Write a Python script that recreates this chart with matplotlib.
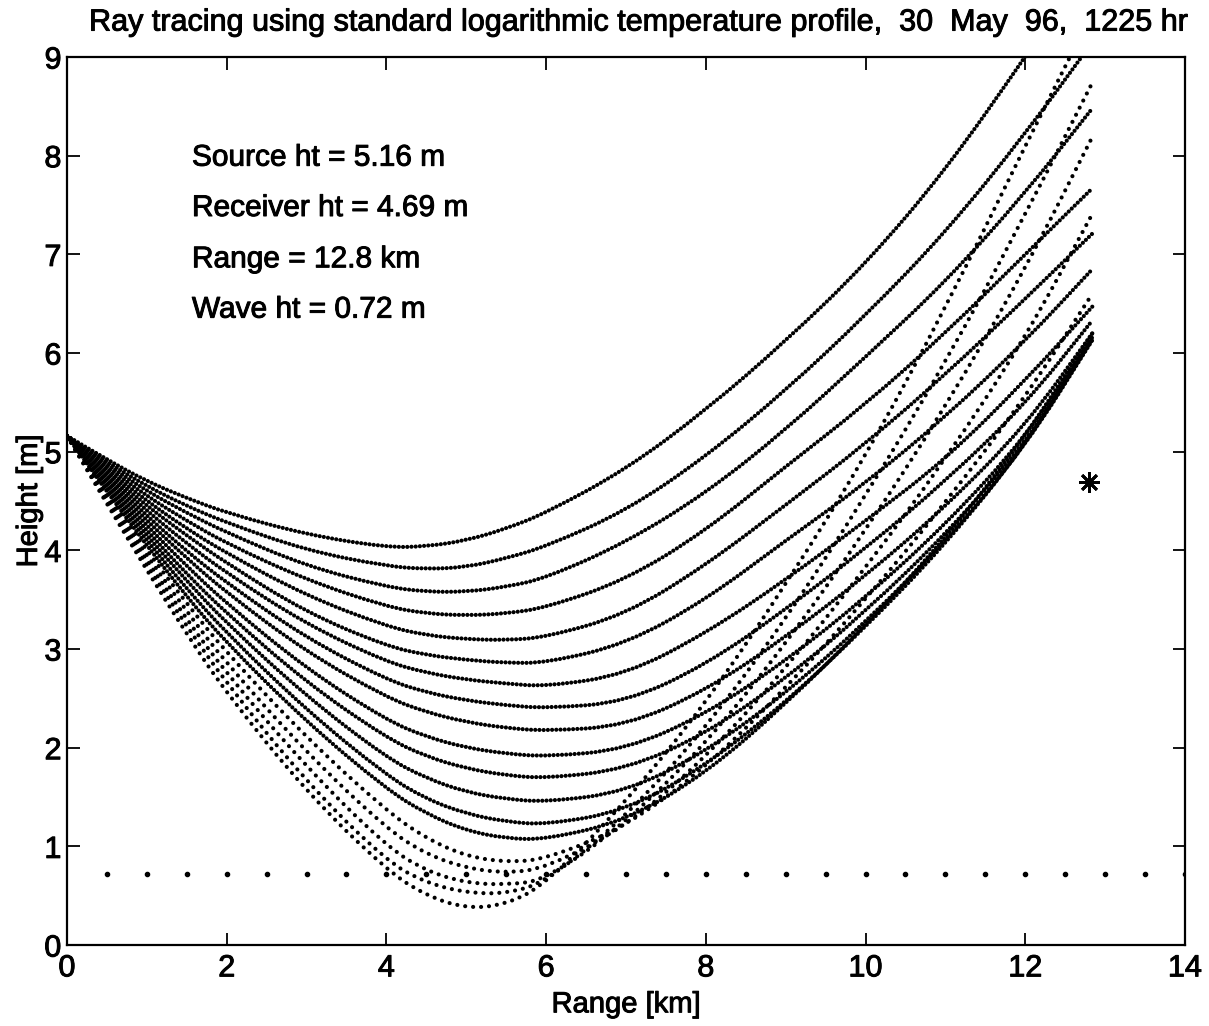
import matplotlib
matplotlib.use("Agg")
import matplotlib.pyplot as plt
import matplotlib.patheffects as pe
from matplotlib.path import Path
from matplotlib.patches import PathPatch

range_km = [0, 0.5, 1, 1.5, 2, 3, 4, 4.5, 5, 5.5, 6, 7, 8, 9, 10, 11, 12, 12.84]

# Ray heights [m], one list per launch angle (shallowest first)
ray_01 = [5.16, 4.92, 4.70, 4.53, 4.38, 4.16, 4.03, 4.04, 4.10, 4.22, 4.38, 4.82, 5.42, 6.12, 6.90, 7.85, 9.00, 10.00]
ray_02 = [5.16, 4.895, 4.65, 4.45, 4.28, 4.00, 3.84, 3.81, 3.83, 3.92, 4.04, 4.40, 4.95, 5.62, 6.38, 7.22, 8.22, 9.15]
ray_03 = [5.16, 4.87, 4.60, 4.38, 4.18, 3.84, 3.63, 3.58, 3.58, 3.63, 3.72, 4.08, 4.58, 5.22, 5.96, 6.72, 7.62, 8.48]
ray_04 = [5.16, 4.845, 4.55, 4.30, 4.07, 3.70, 3.43, 3.36, 3.34, 3.36, 3.42, 3.70, 4.20, 4.85, 5.48, 6.20, 7.00, 7.67]
ray_05 = [5.16, 4.82, 4.50, 4.22, 3.97, 3.54, 3.23, 3.14, 3.10, 3.09, 3.12, 3.35, 3.85, 4.46, 5.08, 5.78, 6.55, 7.21]
ray_06 = [5.16, 4.795, 4.45, 4.15, 3.87, 3.37, 3.03, 2.94, 2.89, 2.86, 2.86, 3.05, 3.50, 4.10, 4.68, 5.35, 6.12, 6.85]
ray_07 = [5.16, 4.77, 4.40, 4.07, 3.77, 3.25, 2.87, 2.76, 2.69, 2.65, 2.62, 2.74, 3.16, 3.70, 4.30, 4.92, 5.72, 6.47]
ray_08 = [5.16, 4.745, 4.35, 3.99, 3.67, 3.11, 2.69, 2.56, 2.48, 2.43, 2.40, 2.46, 2.84, 3.40, 4.02, 4.70, 5.48, 6.33]
ray_09 = [5.16, 4.72, 4.30, 3.92, 3.57, 2.97, 2.51, 2.36, 2.26, 2.20, 2.17, 2.22, 2.58, 3.12, 3.74, 4.44, 5.26, 6.20]
ray_10 = [5.16, 4.695, 4.25, 3.84, 3.46, 2.80, 2.28, 2.11, 2.00, 1.94, 1.91, 1.98, 2.34, 2.88, 3.52, 4.26, 5.14, 6.16]
ray_11 = [5.16, 4.67, 4.20, 3.76, 3.36, 2.66, 2.10, 1.91, 1.79, 1.72, 1.69, 1.78, 2.14, 2.70, 3.38, 4.16, 5.08, 6.14]
ray_12 = [5.16, 4.645, 4.15, 3.69, 3.26, 2.52, 1.90, 1.69, 1.55, 1.48, 1.45, 1.55, 1.96, 2.55, 3.27, 4.09, 5.05, 6.13]
ray_13 = [5.16, 4.62, 4.10, 3.61, 3.16, 2.38, 1.72, 1.48, 1.33, 1.25, 1.22, 1.36, 1.82, 2.46, 3.22, 4.06, 5.06, 6.14]
ray_14 = [5.16, 4.595, 4.05, 3.53, 3.06, 2.26, 1.58, 1.33, 1.16, 1.08, 1.07, 1.26, 1.74, 2.44, 3.24, 4.12, 5.15, 6.20]
ray_15 = [5.16, 4.57, 4.00, 3.46, 2.96, 2.10, 1.36, 1.08, 0.90, 0.84, 0.87, 1.20, 1.80, 2.60, 3.50, 4.48, 5.55, 6.60]
ray_16 = [5.16, 4.545, 3.95, 3.38, 2.85, 1.95, 1.18, 0.92, 0.78, 0.73, 0.78, 1.20, 1.90, 2.80, 3.82, 4.92, 6.15, 7.41]
ray_17 = [5.16, 4.52, 3.90, 3.30, 2.75, 1.80, 1.00, 0.75, 0.63, 0.61, 0.66, 1.24, 2.04, 3.05, 4.20, 5.45, 6.85, 8.19]
ray_18 = [5.16, 4.495, 3.85, 3.23, 2.65, 1.65, 0.85, 0.63, 0.53, 0.52, 0.64, 1.30, 2.20, 3.30, 4.55, 5.90, 7.40, 8.74]
ray_19 = [5.16, 4.47, 3.80, 3.15, 2.55, 1.55, 0.76, 0.50, 0.37, 0.41, 0.62, 1.45, 2.45, 3.65, 4.95, 6.45, 8.10, 9.45]

rays = [ray_01, ray_02, ray_03, ray_04, ray_05, ray_06, ray_07, ray_08, ray_09, ray_10,
        ray_11, ray_12, ray_13, ray_14, ray_15, ray_16, ray_17, ray_18, ray_19]

# Wave height marks along the surface
wave_ht = 0.72
wave_range = [0.5, 1.0, 1.5, 2.0, 2.5, 3.0, 3.5, 4.0, 4.5, 5.0, 5.5, 6.0, 6.5, 7.0,
              7.5, 8.0, 8.5, 9.0, 9.5, 10.0, 10.5, 11.0, 11.5, 12.0, 12.5, 13.0, 13.5, 14.0]

# Receiver position
receiver_range = 12.8
receiver_ht = 4.69

info_lines = ["Source ht = 5.16 m", "Receiver ht = 4.69 m", "Range = 12.8 km", "Wave ht = 0.72 m"]
info_y = [7.98, 7.47, 6.95, 6.44]


def smooth_path(xs, ys):
    """Quadratic spline path through the midpoints of the read-off points."""
    verts = [(xs[0], ys[0])]
    codes = [Path.MOVETO]
    for k in range(1, len(xs) - 1):
        verts += [(xs[k], ys[k]), ((xs[k] + xs[k + 1]) / 2, (ys[k] + ys[k + 1]) / 2)]
        codes += [Path.CURVE3, Path.CURVE3]
    verts.append((xs[-1], ys[-1]))
    codes.append(Path.LINETO)
    return Path(verts, codes)


plt.rcParams['font.family'] = ['Liberation Sans', 'DejaVu Sans']
# scanned print looks a little heavier than plain regular weight
heavy = [pe.withStroke(linewidth=0.7, foreground='black')]

fig = plt.figure(figsize=(12.09, 10.26), dpi=100)
ax = fig.add_axes([0.0554, 0.0789, 0.9247, 0.8655])

# Rays: dense dots for shallow rays, sparser dots for the steep ones
for i, heights in enumerate(rays):
    gap = 1.0 if i < 14 else 1.9
    patch = PathPatch(smooth_path(range_km, heights), fill=False, edgecolor='black',
                      lw=3.0, linestyle=(0, (0.01, gap)), capstyle='round')
    ax.add_patch(patch)

# Wave height dots
ax.plot(wave_range, [wave_ht] * len(wave_range), linestyle='none',
        marker='o', markersize=3.0, color='black')

# Receiver
ax.plot([receiver_range], [receiver_ht], linestyle='none', marker=(8, 2, 0),
        markersize=15, mew=2, color='black')

for line, y in zip(info_lines, info_y):
    ax.text(1.565, y, line, fontsize=21.5, va='center', ha='left', path_effects=heavy)

ax.set_xlim(0, 14)
ax.set_ylim(0, 9)
ax.set_xticks([0, 2, 4, 6, 8, 10, 12, 14])
ax.set_yticks([0, 1, 2, 3, 4, 5, 6, 7, 8, 9])
ax.tick_params(direction='in', length=9, width=1.3, labelsize=22,
               top=True, right=True)
ax.tick_params(axis='x', pad=6)
ax.tick_params(axis='y', pad=4)
for lab in ax.get_xticklabels() + ax.get_yticklabels():
    lab.set_path_effects(heavy)
for spine in ax.spines.values():
    spine.set_linewidth(1.6)

ax.set_xlabel("Range [km]", fontsize=21, labelpad=5, path_effects=heavy)
ax.set_ylabel("Height [m]", fontsize=21, labelpad=1, path_effects=heavy)

fig.text(0.527, 0.978, "Ray tracing using standard logarithmic temperature profile,  30  May  96,  1225 hr",
         fontsize=22, ha='center', va='center', path_effects=heavy)

fig.savefig("out.png", dpi=100)
